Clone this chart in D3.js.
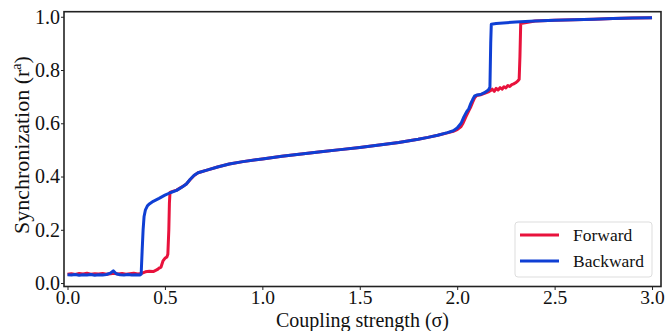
<!DOCTYPE html>
<html>
<head>
<meta charset="utf-8">
<script src="https://cdn.jsdelivr.net/npm/d3@7"></script>
<style>
  html, body { margin: 0; padding: 0; background: #fff; }
  svg { display: block; }
  text { font-family: "Liberation Serif", "Times New Roman", serif; fill: #111; }
</style>
</head>
<body>
<svg id="chart" width="670" height="331"></svg>
<script>
// ---- data ----
const backwardSigma = [0.00,0.02,0.04,0.06,0.08,0.10,0.12,0.14,0.16,0.18,0.20,0.22,0.235,0.25,0.27,0.29,0.31,0.33,0.35,0.37,0.378,0.383,0.388,0.393,0.40,0.41,0.42,0.44,0.47,0.50,0.53,0.56,0.59,0.61,0.63,0.65,0.67,0.72,0.77,0.83,0.90,1.00,1.10,1.20,1.30,1.40,1.50,1.60,1.70,1.80,1.85,1.90,1.95,1.98,2.00,2.02,2.035,2.05,2.06,2.07,2.08,2.09,2.10,2.12,2.14,2.16,2.168,2.172,2.175,2.20,2.30,2.40,2.50,2.60,2.70,2.80,2.90,3.00];
const backwardR = [0.031,0.030,0.032,0.029,0.031,0.030,0.032,0.029,0.031,0.030,0.032,0.037,0.046,0.035,0.031,0.030,0.032,0.030,0.031,0.030,0.033,0.120,0.200,0.250,0.275,0.290,0.297,0.307,0.318,0.330,0.340,0.348,0.362,0.372,0.390,0.405,0.414,0.425,0.436,0.447,0.456,0.466,0.476,0.485,0.493,0.501,0.509,0.518,0.528,0.540,0.547,0.555,0.565,0.572,0.582,0.600,0.625,0.645,0.655,0.675,0.690,0.703,0.706,0.708,0.715,0.725,0.735,0.900,0.972,0.975,0.980,0.984,0.987,0.989,0.991,0.993,0.995,0.996];

const forwardSigma = [0.00,0.02,0.04,0.06,0.08,0.10,0.12,0.14,0.16,0.18,0.20,0.22,0.24,0.26,0.28,0.30,0.32,0.34,0.36,0.38,0.40,0.42,0.44,0.46,0.47,0.48,0.49,0.50,0.51,0.515,0.52,0.523,0.526,0.54,0.56,0.59,0.61,0.63,0.65,0.67,0.72,0.77,0.83,0.90,1.00,1.10,1.20,1.30,1.40,1.50,1.60,1.70,1.80,1.85,1.90,1.95,1.98,2.00,2.02,2.03,2.045,2.06,2.07,2.08,2.09,2.10,2.12,2.14,2.16,2.17,2.18,2.19,2.20,2.21,2.22,2.23,2.24,2.25,2.26,2.27,2.28,2.29,2.30,2.31,2.318,2.322,2.326,2.40,2.50,2.60,2.70,2.80,2.90,3.00];
const forwardR = [0.033,0.035,0.032,0.036,0.034,0.037,0.033,0.035,0.034,0.036,0.033,0.035,0.037,0.034,0.036,0.033,0.035,0.037,0.034,0.036,0.042,0.044,0.043,0.050,0.056,0.060,0.083,0.093,0.098,0.108,0.200,0.300,0.340,0.344,0.349,0.362,0.372,0.389,0.404,0.414,0.425,0.436,0.447,0.456,0.466,0.476,0.485,0.493,0.501,0.509,0.518,0.528,0.540,0.547,0.555,0.564,0.570,0.576,0.588,0.600,0.625,0.648,0.662,0.680,0.696,0.704,0.707,0.712,0.718,0.722,0.728,0.720,0.731,0.725,0.734,0.728,0.737,0.733,0.742,0.738,0.745,0.748,0.752,0.758,0.765,0.850,0.975,0.984,0.987,0.989,0.991,0.993,0.995,0.996];

const xTicks = [0.0, 0.5, 1.0, 1.5, 2.0, 2.5, 3.0];
const yTicks = [0.0, 0.2, 0.4, 0.6, 0.8, 1.0];
const seriesNames = ["Forward", "Backward"];
const seriesColors = ["#e8123c", "#0f3fd4"];

// ---- layout ----
const svg = d3.select("#chart");
const L = 64, R = 661, T = 11.7, B = 286.5;
const x = d3.scaleLinear().domain([-0.018, 3.046]).range([L, R]);
const y = d3.scaleLinear().domain([-0.013, 1.019]).range([B, T]);

// axes
const xAxis = svg.append("g").attr("transform", `translate(0,${B})`)
  .call(d3.axisBottom(x).tickValues(xTicks).tickFormat(d3.format(".1f")).tickSize(3.5).tickPadding(0));
const yAxis = svg.append("g").attr("transform", `translate(${L},0)`)
  .call(d3.axisLeft(y).tickValues(yTicks).tickFormat(d3.format(".1f")).tickSize(3).tickPadding(1));
[xAxis, yAxis].forEach(g => {
  g.select(".domain").remove();
  g.selectAll(".tick line").attr("stroke", "#222").attr("stroke-width", 1);
  g.selectAll(".tick text").style("font-family", "'Liberation Serif', serif").style("font-size", "20px").attr("fill", "#111");
});
xAxis.selectAll(".tick text").style("font-size", "19.5px");

// lines
const line = d3.line().x(d => x(d[0])).y(d => y(d[1]));
const fwd = forwardSigma.map((s, i) => [s, forwardR[i]]);
const bwd = backwardSigma.map((s, i) => [s, backwardR[i]]);
svg.append("path").datum(fwd).attr("d", line).attr("fill", "none")
  .attr("stroke", seriesColors[0]).attr("stroke-width", 3).attr("stroke-linejoin", "round");
svg.append("path").datum(bwd).attr("d", line).attr("fill", "none")
  .attr("stroke", seriesColors[1]).attr("stroke-width", 3).attr("stroke-linejoin", "round");

// frame
svg.append("rect").attr("x", L).attr("y", T).attr("width", R - L).attr("height", B - T)
  .attr("fill", "none").attr("stroke", "#222").attr("stroke-width", 1.6);

// axis titles
svg.append("text").attr("x", (L + R) / 2).attr("y", 326.5).attr("text-anchor", "middle")
  .style("font-size", "20px").text("Coupling strength (σ)");
const yt = svg.append("text").attr("transform", `translate(29,${(T + B) / 2 - 4}) rotate(-90)`)
  .attr("text-anchor", "middle").style("font-size", "22px");
yt.append("tspan").text("Synchronization (r");
yt.append("tspan").attr("dy", -8).style("font-size", "14px").text("a");
yt.append("tspan").attr("dy", 8).text(")");

// legend
const lg = svg.append("g").attr("transform", "translate(515,222)");
lg.append("rect").attr("width", 137).attr("height", 55).attr("rx", 3)
  .attr("fill", "#fff").attr("stroke", "#ddd").attr("stroke-width", 1);
seriesNames.forEach((n, i) => {
  const yy = 13 + i * 26;
  lg.append("line").attr("x1", 5).attr("x2", 44).attr("y1", yy).attr("y2", yy)
    .attr("stroke", seriesColors[i]).attr("stroke-width", 3);
  lg.append("text").attr("x", 58).attr("y", yy + 6).style("font-size", "17.5px").text(n);
});
</script>
</body>
</html>
